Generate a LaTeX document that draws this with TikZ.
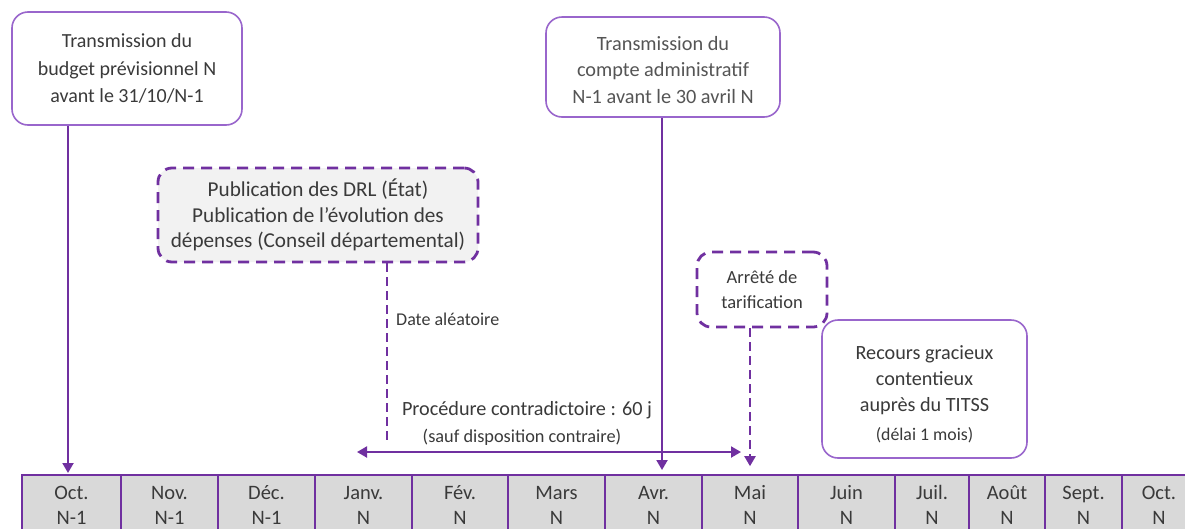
\documentclass[tikz,border=0pt]{standalone}
\usepackage{fontspec}
\setmainfont{Carlito}
\usetikzlibrary{arrows.meta}
\definecolor{txt}{HTML}{3A3A3A}
\definecolor{txtb}{HTML}{555555}
\definecolor{pl}{HTML}{9966CC}
\definecolor{pd}{HTML}{7030A0}
\definecolor{cellfill}{HTML}{D9D9D9}
\definecolor{boxfill}{HTML}{F2F2F2}
\tikzset{
  solidbox/.style={draw=pl, line width=1.6pt, rounded corners=16pt, fill=white, align=center, inner sep=0pt, text=txt, font=\fontsize{20}{27.5}\selectfont},
  dashbox/.style={draw=pd, line width=2.8pt, dash pattern=on 11pt off 7pt, rounded corners=14pt, align=center, inner sep=0pt, text=txt, font=\fontsize{21.2}{25.5}\selectfont},
  cell/.style={draw=pd, line width=1.6pt, fill=cellfill, align=center, inner sep=0pt, minimum height=60pt, text=txt, font=\fontsize{20.5}{25}\selectfont},
  conn/.style={draw=pd, line width=2pt, -{Triangle[length=10pt,width=11pt]}},
  dconn/.style={draw=pd, line width=2pt, dash pattern=on 9pt off 5pt},
  lbl/.style={text=txt, inner sep=0pt}
}
\begin{document}
\begin{tikzpicture}[x=1pt,y=-1pt]
\clip (0,0) rectangle (1185,528);
\fill[white] (0,0) rectangle (1185,528);
% month cells
\foreach \l/\r/\a/\b [count=\i] in {22/121/Oct./N-1,121/218/Nov./N-1,218/315/Déc./N-1,315/412/Janv./N,412/508/Fév./N,508/605/Mars/N,605/702/Avr./N,702/798/Mai/N,798/895/Juin/N,895/969/Juil./N,969/1045/Août/N,1045/1122/Sept./N,1122/1196/Oct./N}{
  \pgfmathsetmacro{\w}{\r-\l}
  \pgfmathsetmacro{\c}{(\r+\l)/2}
  \node[cell, minimum width=\w pt] (m\i) at (\c,505) {\a\\\b};
}
% boxes
\node[solidbox, minimum width=230pt, minimum height=113pt] (b1) at (127,68.5) {Transmission du\\budget prévisionnel N\\avant le 31/10/N-1};
\node[solidbox, minimum width=234pt, minimum height=100pt, text=txtb, font=\fontsize{20.3}{26.5}\selectfont] (b2) at (663,67) {\rule{0pt}{20pt}Transmission du\\compte administratif\\N-1 avant le 30 avril N};
\node[dashbox, fill=boxfill, minimum width=320pt, minimum height=94pt] (b3) at (318,215) {Publication des DRL (État)\\Publication de l’évolution des\\dépenses (Conseil départemental)};
\node[dashbox, fill=white, minimum width=130pt, minimum height=75pt, font=\fontsize{18.5}{24.5}\selectfont] (b4) at (762,289.5) {Arrêté de\\tarification};
\node[solidbox, minimum width=205pt, minimum height=138pt, font=\fontsize{20.2}{26}\selectfont] (b5) at (924.5,389) {\rule{0pt}{24pt}Recours gracieux\\contentieux\\auprès du TITSS\\[3pt]{\fontsize{17.8}{20}\selectfont (délai 1 mois)}};
% coordinates
\coordinate (a1) at (68,473);
\coordinate (d1) at (387,445);
\coordinate (x2) at (662,470);
\coordinate (pL) at (357,452);
\coordinate (pR) at (741,452);
% connectors
\draw[conn] (a1 |- b1.south) -- (a1);
\draw[dconn] (d1 |- b3.south) -- (d1);
\draw[conn] (b2.south -| x2) -- (x2);
\draw[draw=pd, line width=2pt, {Triangle[length=10pt,width=11pt]}-{Triangle[length=10pt,width=11pt]}] (pL) -- (pR);
\draw[dconn, -{Triangle[length=10pt,width=11pt]}, shorten >=8pt] (m8.north |- b4.south) -- (m8.north);
% labels
\node[lbl, anchor=west, font=\fontsize{18}{20}\selectfont] (t1) at (396,319) {Date aléatoire};
\node[lbl, font=\fontsize{20.2}{22}\selectfont] (t2) at (527,410) {Procédure contradictoire : 60 j};
\node[lbl, font=\fontsize{18.3}{20}\selectfont] (t3) at (522,437) {(sauf disposition contraire)};
\end{tikzpicture}
\end{document}
